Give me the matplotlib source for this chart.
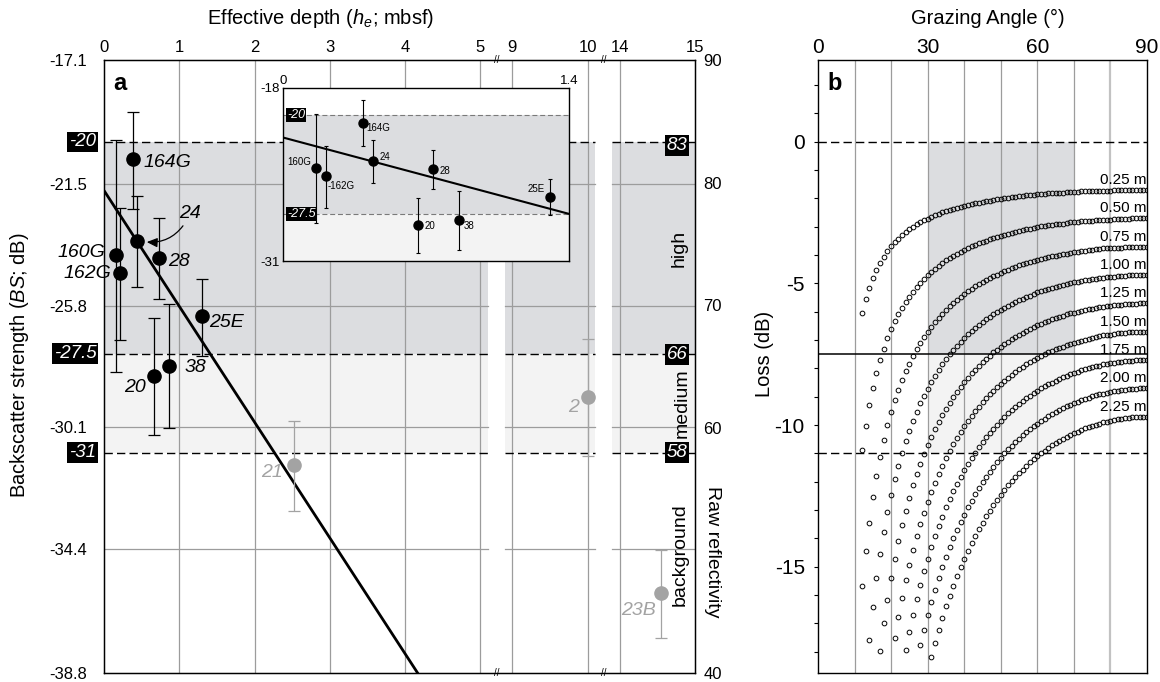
import numpy as np
import matplotlib
matplotlib.use("Agg")
import matplotlib.pyplot as plt
from matplotlib.ticker import NullLocator, MultipleLocator, FixedLocator
from matplotlib.transforms import blended_transform_factory

plt.rcParams['font.family'] = ['Liberation Sans', 'DejaVu Sans']
plt.rcParams['mathtext.fontset'] = 'custom'
plt.rcParams['mathtext.rm'] = 'Liberation Sans'
plt.rcParams['mathtext.it'] = 'Liberation Sans:italic'
plt.rcParams['mathtext.bf'] = 'Liberation Sans:bold'
plt.rcParams['axes.unicode_minus'] = False

# ---------------- panel a data ----------------
cores = ['160G', '162G', '164G', '24', '28', '20', '38', '25E', '21', '2', '23B']
eff_depth = [0.16, 0.21, 0.39, 0.44, 0.735, 0.66, 0.86, 1.305, 2.52, 10.0, 14.55]
bs_mean = [-24.02, -24.65, -20.62, -23.50, -24.10, -28.30, -27.92, -26.18, -31.44, -29.02, -35.98]
bs_upper = [-19.93, -22.34, -18.93, -21.90, -22.68, -26.25, -25.75, -24.86, -29.87, -26.99, -34.45]
bs_lower = [-28.15, -27.00, -22.37, -25.12, -25.56, -30.37, -30.14, -27.57, -33.05, -31.11, -37.55]
in_fit = [True, True, True, True, True, True, True, True, False, False, False]
fit_intercept = -21.72
fit_slope = -4.1
fit_range = [0.0, 4.4]
bs_thresholds = [-20, -27.5, -31]
raw_thresholds = [83, 66, 58]
bs_ticks = [-17.1, -21.5, -25.8, -30.1, -34.4, -38.8]
raw_ticks = [90, 80, 70, 60, 40]
depth_ticks = [0, 1, 2, 3, 4, 5, 9, 10, 14, 15]
class_names = ['high', 'medium', 'background']

# ---------------- panel b data ----------------
burial_depths = ['0.25 m', '0.50 m', '0.75 m', '1.00 m', '1.25 m', '1.50 m', '1.75 m', '2.00 m', '2.25 m']
first_angle = [12, 12, 12, 14, 17, 21, 24, 28, 31]
loss_025 = [-6.06, -5.57, -5.17, -4.82, -4.53, -4.28, -4.06, -3.87, -3.70, -3.55,
            -3.42, -3.30, -3.19, -3.10, -3.01, -2.92, -2.85, -2.78, -2.72, -2.66,
            -2.60, -2.55, -2.50, -2.45, -2.41, -2.37, -2.33, -2.30, -2.27, -2.23,
            -2.20, -2.18, -2.15, -2.12, -2.10, -2.08, -2.06, -2.04, -2.02, -2.00,
            -1.98, -1.96, -1.95, -1.93, -1.92, -1.90, -1.89, -1.88, -1.86, -1.85,
            -1.84, -1.83, -1.82, -1.81, -1.80, -1.80, -1.79, -1.78, -1.77, -1.77,
            -1.76, -1.76, -1.75, -1.75, -1.74, -1.74, -1.73, -1.73, -1.73, -1.72,
            -1.72, -1.72, -1.72, -1.71, -1.71, -1.71, -1.71, -1.71, -1.71]
loss_050 = [-10.87, -10.02, -9.30, -8.68, -8.16, -7.70, -7.30, -6.94, -6.62, -6.34,
            -6.09, -5.86, -5.65, -5.47, -5.29, -5.12, -4.98, -4.84, -4.72, -4.60,
            -4.49, -4.39, -4.29, -4.19, -4.11, -4.03, -3.95, -3.89, -3.83, -3.75,
            -3.69, -3.65, -3.59, -3.53, -3.49, -3.45, -3.41, -3.37, -3.33, -3.29,
            -3.25, -3.21, -3.19, -3.15, -3.13, -3.09, -3.07, -3.05, -3.01, -2.99,
            -2.97, -2.95, -2.93, -2.91, -2.89, -2.89, -2.87, -2.85, -2.83, -2.83,
            -2.81, -2.81, -2.79, -2.79, -2.77, -2.77, -2.75, -2.75, -2.75, -2.73,
            -2.73, -2.73, -2.72, -2.72, -2.71, -2.71, -2.71, -2.71, -2.71]
loss_075 = [-15.68, -14.46, -13.44, -12.55, -11.79, -11.12, -10.53, -10.01, -9.55, -9.13,
            -8.76, -8.42, -8.11, -7.83, -7.57, -7.33, -7.11, -6.91, -6.72, -6.54,
            -6.37, -6.22, -6.08, -5.94, -5.81, -5.69, -5.58, -5.48, -5.38, -5.28,
            -5.19, -5.11, -5.03, -4.95, -4.88, -4.81, -4.75, -4.69, -4.63, -4.57,
            -4.52, -4.46, -4.42, -4.37, -4.33, -4.28, -4.25, -4.21, -4.17, -4.14,
            -4.11, -4.07, -4.05, -4.02, -3.99, -3.97, -3.95, -3.92, -3.90, -3.89,
            -3.86, -3.85, -3.83, -3.82, -3.80, -3.79, -3.77, -3.77, -3.76, -3.75,
            -3.74, -3.74, -3.73, -3.72, -3.72, -3.71, -3.71, -3.71, -3.71]
loss_100 = [-17.57, -16.41, -15.41, -14.54, -13.77, -13.08, -12.47, -11.92, -11.43, -10.98,
            -10.57, -10.20, -9.85, -9.53, -9.24, -8.97, -8.72, -8.48, -8.26, -8.06,
            -7.86, -7.68, -7.51, -7.35, -7.20, -7.07, -6.94, -6.80, -6.68, -6.58,
            -6.47, -6.36, -6.27, -6.18, -6.10, -6.02, -5.94, -5.86, -5.79, -5.72,
            -5.66, -5.59, -5.54, -5.48, -5.43, -5.38, -5.32, -5.28, -5.24, -5.20,
            -5.16, -5.12, -5.08, -5.06, -5.03, -4.99, -4.96, -4.94, -4.92, -4.90,
            -4.87, -4.86, -4.83, -4.82, -4.80, -4.79, -4.78, -4.76, -4.75, -4.74,
            -4.73, -4.72, -4.72, -4.72, -4.71, -4.71, -4.71]
loss_125 = [-17.96, -17.00, -16.16, -15.40, -14.71, -14.10, -13.54, -13.02, -12.56, -12.13,
            -11.73, -11.37, -11.03, -10.72, -10.43, -10.15, -9.89, -9.65, -9.42, -9.22,
            -9.02, -8.83, -8.66, -8.49, -8.33, -8.18, -8.05, -7.91, -7.78, -7.66,
            -7.55, -7.44, -7.34, -7.24, -7.15, -7.06, -6.97, -6.89, -6.81, -6.74,
            -6.67, -6.61, -6.55, -6.48, -6.42, -6.37, -6.32, -6.27, -6.22, -6.18,
            -6.15, -6.10, -6.06, -6.03, -6.00, -5.97, -5.94, -5.91, -5.89, -5.86,
            -5.85, -5.82, -5.80, -5.79, -5.77, -5.76, -5.75, -5.74, -5.73, -5.72,
            -5.72, -5.71, -5.71, -5.71]
loss_150 = [-17.50, -16.77, -16.10, -15.48, -14.93, -14.42, -13.93, -13.50, -13.09, -12.72,
            -12.37, -12.04, -11.73, -11.44, -11.17, -10.92, -10.68, -10.45, -10.25, -10.05,
            -9.85, -9.67, -9.51, -9.35, -9.19, -9.05, -8.92, -8.79, -8.67, -8.55,
            -8.43, -8.33, -8.22, -8.13, -8.03, -7.95, -7.86, -7.79, -7.71, -7.63,
            -7.57, -7.50, -7.44, -7.38, -7.33, -7.27, -7.23, -7.18, -7.14, -7.09,
            -7.06, -7.02, -6.99, -6.95, -6.93, -6.89, -6.87, -6.84, -6.82, -6.81,
            -6.78, -6.77, -6.76, -6.74, -6.73, -6.72, -6.72, -6.71, -6.71, -6.71]
loss_175 = [-17.94, -17.30, -16.70, -16.14, -15.63, -15.16, -14.72, -14.31, -13.92, -13.57,
            -13.23, -12.91, -12.62, -12.34, -12.08, -11.83, -11.60, -11.38, -11.17, -10.98,
            -10.79, -10.61, -10.44, -10.28, -10.13, -9.99, -9.85, -9.72, -9.59, -9.47,
            -9.37, -9.25, -9.16, -9.05, -8.97, -8.88, -8.79, -8.71, -8.64, -8.56,
            -8.50, -8.43, -8.37, -8.32, -8.26, -8.21, -8.16, -8.12, -8.07, -8.03,
            -7.99, -7.96, -7.92, -7.90, -7.86, -7.84, -7.82, -7.80, -7.78, -7.77,
            -7.75, -7.74, -7.73, -7.72, -7.71, -7.71, -7.71]
loss_200 = [-17.76, -17.22, -16.72, -16.25, -15.81, -15.40, -15.02, -14.66, -14.32, -14.00,
            -13.70, -13.42, -13.16, -12.90, -12.67, -12.44, -12.23, -12.02, -11.83, -11.65,
            -11.48, -11.31, -11.15, -11.00, -10.86, -10.73, -10.60, -10.48, -10.36, -10.25,
            -10.14, -10.04, -9.95, -9.86, -9.77, -9.69, -9.61, -9.54, -9.47, -9.40,
            -9.34, -9.28, -9.22, -9.17, -9.12, -9.08, -9.03, -8.99, -8.95, -8.92,
            -8.89, -8.86, -8.83, -8.81, -8.79, -8.77, -8.75, -8.74, -8.73, -8.72,
            -8.71, -8.71, -8.71]
loss_225 = [-18.19, -17.70, -17.24, -16.81, -16.40, -16.02, -15.67, -15.33, -15.01, -14.71,
            -14.43, -14.16, -13.91, -13.67, -13.44, -13.22, -13.02, -12.82, -12.64, -12.46,
            -12.29, -12.13, -11.98, -11.83, -11.70, -11.57, -11.44, -11.32, -11.21, -11.10,
            -11.00, -10.90, -10.81, -10.72, -10.64, -10.56, -10.49, -10.42, -10.35, -10.29,
            -10.23, -10.17, -10.12, -10.07, -10.03, -9.99, -9.95, -9.91, -9.88, -9.85,
            -9.82, -9.80, -9.78, -9.76, -9.74, -9.73, -9.72, -9.72, -9.71, -9.71]
loss_curves = [loss_025, loss_050, loss_075, loss_100, loss_125, loss_150, loss_175, loss_200, loss_225]
high_loss, medium_loss, zero_loss = -7.5, -11.0, 0.0
angle_window = [30, 70]
angle_ticks = [0, 30, 60, 90]
loss_ticks = [0, -5, -10, -15]

# ---------------- styles / layout ----------------
W, H = 1160, 682
DARK = '#dcdde0'
LIGHT = '#f3f3f3'
GRID = '#9c9c9c'
GREY = '#a3a3a3'
DASH = (0, (6, 3))

def fx(px):
    return px / W

def fy(py):
    return 1 - py / H

# broken depth axis: three visible windows, small gaps between them
GAP = 0.225
SEGS = [(0.0, 5.1), (8.9, 10.1), (13.9, 15.0)]

def _fwd(x):
    x = np.asarray(x, dtype=float)
    return np.where(x <= 5.1, x,
           np.where(x < 8.9, 5.1 + (x - 5.1) * GAP / 3.8,
           np.where(x <= 10.1, 5.1 + GAP + (x - 8.9),
           np.where(x < 13.9, 6.3 + GAP + (x - 10.1) * GAP / 3.8,
                    6.3 + 2 * GAP + (x - 13.9)))))

def _inv(u):
    u = np.asarray(u, dtype=float)
    b1, b2, b3, b4 = 5.1, 5.1 + GAP, 6.3 + GAP, 6.3 + 2 * GAP
    return np.where(u <= b1, u,
           np.where(u < b2, 5.1 + (u - b1) * 3.8 / GAP,
           np.where(u <= b3, 8.9 + (u - b2),
           np.where(u < b4, 10.1 + (u - b3) * 3.8 / GAP,
                    13.9 + (u - b4)))))

fig = plt.figure(figsize=(11.6, 6.82), dpi=100)

# =============== panel a ===============
axa = fig.add_axes([fx(104), fy(673), (695 - 104) / W, (673 - 60) / H])
axa.set_xscale('function', functions=(_fwd, _inv))
axa.set_xlim(0, 15)
axa.set_ylim(bs_ticks[-1], bs_ticks[0])

for s0, s1 in SEGS:
    axa.fill_between([s0, s1], bs_thresholds[1], bs_thresholds[0], color=DARK, lw=0, zorder=0)
    axa.fill_between([s0, s1], bs_thresholds[2], bs_thresholds[1], color=LIGHT, lw=0, zorder=0)
    for yv in bs_ticks[1:-1]:
        axa.plot([s0, s1], [yv, yv], color=GRID, lw=0.9, zorder=0.5)
    for yv in bs_thresholds:
        axa.plot([s0, s1], [yv, yv], color='black', lw=1.0, ls=DASH, zorder=1)
axa.vlines([t for t in depth_ticks[1:-1]], bs_ticks[-1], bs_ticks[0], colors=GRID, lw=0.9, zorder=0.5)

fit_y = [fit_intercept + fit_slope * h for h in fit_range]
axa.plot(fit_range, fit_y, color='black', lw=2.0, zorder=3, solid_capstyle='butt')

for i in range(len(cores)):
    col = 'black' if in_fit[i] else GREY
    y = bs_mean[i]
    axa.errorbar([eff_depth[i]], [y], yerr=[[y - bs_lower[i]], [bs_upper[i] - y]], fmt='o',
                 color=col, ms=9.5, capsize=4, elinewidth=0.9, capthick=0.9, zorder=4)

main_label_off = {'160G': (-7.5, 1.8, 'right'), '162G': (-6.0, 0.0, 'right'), '164G': (7.2, -2.2, 'left'),
                  '28': (6.5, -3.0, 'left'), '25E': (4.7, -4.1, 'left'), '20': (-5.8, -7.7, 'right'),
                  '38': (11.5, -1.2, 'left'), '21': (-7.9, -5.5, 'right'), '2': (-6.5, -7.6, 'right'),
                  '23B': (-3.6, -12.7, 'right')}
for i, c in enumerate(cores):
    col = 'black' if in_fit[i] else GREY
    if c == '24':
        axa.annotate(c, xy=(eff_depth[i], bs_mean[i]), xytext=(38.2, 19.7), textcoords='offset points',
                     ha='center', va='center', fontsize=14, fontstyle='italic', color=col, zorder=6,
                     arrowprops=dict(arrowstyle='-|>,head_length=0.45,head_width=0.2',
                                     connectionstyle='arc3,rad=-0.4', lw=0.9, color='black',
                                     shrinkA=1, shrinkB=7))
        continue
    dx, dy, ha = main_label_off[c]
    axa.annotate(c, xy=(eff_depth[i], bs_mean[i]), xytext=(dx, dy), textcoords='offset points',
                 ha=ha, va='center', fontsize=14, fontstyle='italic', color=col, zorder=6,
                 annotation_clip=False)

box = dict(boxstyle='square,pad=0.1', fc='black', ec='none')
for v in bs_thresholds:
    axa.annotate(f'{v:g}', xy=(0, v), xycoords=('axes fraction', 'data'), xytext=(-5.6, 0),
                 textcoords='offset points', ha='right', va='center', color='white',
                 fontstyle='italic', fontsize=13.5, bbox=box, zorder=10, annotation_clip=False)

axa.xaxis.set_ticks_position('top')
axa.xaxis.set_major_locator(FixedLocator(depth_ticks))
axa.set_xticklabels([str(t) for t in depth_ticks])
axa.xaxis.set_minor_locator(NullLocator())
axa.tick_params(axis='x', which='both', length=0, pad=3.5, labelsize=12,
                top=True, bottom=False, labeltop=True, labelbottom=False)
axa.set_yticks(bs_ticks)
axa.set_yticklabels([f'{t:g}' for t in bs_ticks])
axa.yaxis.set_minor_locator(NullLocator())
axa.tick_params(axis='y', length=0, pad=12, labelsize=12)
for sp in axa.spines.values():
    sp.set_linewidth(1.0)

# axis break marks
trans_a = blended_transform_factory(axa.transData, axa.transAxes)
for xb in [7.0, 12.0]:
    for yb in [1.0, 0.0]:
        axa.text(xb, yb, '//', transform=trans_a, ha='center', va='center', fontsize=7,
                 zorder=12, clip_on=False)

# right axis: raw reflectivity
axr = axa.twinx()
axr.set_ylim(40, 90)
axr.set_yticks(raw_ticks)
axr.set_yticklabels([str(t) for t in raw_ticks])
axr.yaxis.set_minor_locator(NullLocator())
axr.tick_params(axis='y', length=0, pad=6, labelsize=12)
for v in raw_thresholds:
    axr.annotate(str(v), xy=(1, v), xycoords=('axes fraction', 'data'), xytext=(-5.6, 0),
                 textcoords='offset points', ha='right', va='center', color='white',
                 fontstyle='italic', fontsize=13.5, bbox=box, zorder=10, annotation_clip=False)

fig.text(fx(679), fy(248), class_names[0], rotation=90, ha='center', va='center', fontsize=14)
fig.text(fx(682), fy(403), class_names[1], rotation=90, ha='center', va='center', fontsize=14)
fig.text(fx(680), fy(555), class_names[2], rotation=90, ha='center', va='center', fontsize=14)
fig.text(fx(713), fy(552), 'Raw reflectivity', rotation=270, ha='center', va='center', fontsize=14)
fig.text(fx(19.5), fy(365), r'Backscatter strength ($\mathit{BS}$; dB)', rotation=90,
         ha='center', va='center', fontsize=14.5)
fig.text(fx(321), fy(19), r'Effective depth ($\mathit{h}_\mathit{e}$; mbsf)', ha='center',
         va='center', fontsize=14.5)
fig.text(fx(120), fy(84), 'a', fontsize=17, fontweight='bold', ha='center', va='center')

# inset
axi = fig.add_axes([fx(283), fy(261), (569 - 283) / W, (261 - 88) / H])
axi.set_xlim(0, 1.4)
axi.set_ylim(-31, -18)
axi.fill_between([0, 1.4], bs_thresholds[1], bs_thresholds[0], color=DARK, lw=0, zorder=0)
axi.fill_between([0, 1.4], -31, bs_thresholds[1], color=LIGHT, lw=0, zorder=0)
for v in bs_thresholds[:2]:
    axi.axhline(v, color='#7a7a7a', lw=0.8, ls=(0, (4.5, 2.5)), zorder=1)
axi.plot([0, 1.4], [fit_intercept, fit_intercept + fit_slope * 1.4], color='black', lw=1.5, zorder=3)
inset_label_off = {'160G': (-3.4, 4.3, 'right'), '162G': (1.4, -6.5, 'left'), '164G': (2.9, -3.6, 'left'),
                   '24': (4.5, 3.1, 'left'), '28': (4.8, -1.2, 'left'), '20': (4.5, -0.5, 'left'),
                   '38': (3.6, -4.1, 'left'), '25E': (-3.4, 5.8, 'right')}
for i, c in enumerate(cores):
    if not in_fit[i]:
        continue
    y = bs_mean[i]
    axi.errorbar([eff_depth[i]], [y], yerr=[[y - bs_lower[i]], [bs_upper[i] - y]], fmt='o',
                 color='black', ms=6.5, capsize=1.5, elinewidth=0.8, capthick=0.8, zorder=4)
    dx, dy, ha = inset_label_off[c]
    txt = '-' + c if c == '162G' else c
    axi.annotate(txt, xy=(eff_depth[i], y), xytext=(dx, dy), textcoords='offset points',
                 ha=ha, va='center', fontsize=7, zorder=6)
ibox = dict(boxstyle='square,pad=0.08', fc='black', ec='none')
for v in bs_thresholds[:2]:
    axi.annotate(f'{v:g}', xy=(0, v), xycoords=('axes fraction', 'data'), xytext=(3.0, 0),
                 textcoords='offset points', ha='left', va='center', color='white',
                 fontstyle='italic', fontsize=9, bbox=ibox, zorder=10)
axi.xaxis.tick_top()
axi.set_xticks([0, 1.4])
axi.set_xticklabels(['0', '1.4'])
axi.set_yticks([-18, -31])
axi.set_yticklabels(['-18', '-31'])
axi.tick_params(axis='both', length=0, labelsize=9.5)
axi.tick_params(axis='x', pad=0.5)
axi.tick_params(axis='y', pad=2)
for sp in axi.spines.values():
    sp.set_linewidth(1.0)

# =============== panel b ===============
axb = fig.add_axes([fx(818), fy(673), (1147 - 818) / W, (673 - 60) / H])
axb.set_xlim(0, 90)
axb.set_ylim(-18.75, 2.88)
axb.fill_between(angle_window, high_loss, zero_loss, color=DARK, lw=0, zorder=0)
axb.fill_between(angle_window, medium_loss, high_loss, color=LIGHT, lw=0, zorder=0)
for g in range(10, 90, 10):
    if g == 80:
        axb.axvline(g, color='#c2c2c2', lw=1.6, zorder=0.5)
    else:
        axb.axvline(g, color=GRID, lw=0.9, zorder=0.5)
axb.axhline(zero_loss, color='black', lw=1.0, ls=DASH, zorder=1)
axb.axhline(medium_loss, color='black', lw=1.0, ls=DASH, zorder=1)
axb.axhline(high_loss, color='black', lw=1.1, zorder=1)
for name, a0, vals in zip(burial_depths, first_angle, loss_curves):
    ang = np.arange(a0, a0 + len(vals))
    axb.plot(ang, vals, 'o', ms=3.4, mfc='none', mec='black', mew=0.7, zorder=3)
    axb.text(89.8, vals[-1] + 0.36, name, ha='right', va='center', fontsize=11, zorder=5)
axb.xaxis.tick_top()
axb.set_xticks(angle_ticks)
axb.set_xticklabels([str(t) for t in angle_ticks])
axb.xaxis.set_minor_locator(NullLocator())
axb.tick_params(axis='x', length=0, pad=2, labelsize=15)
axb.set_yticks(loss_ticks)
axb.set_yticklabels([str(t) for t in loss_ticks])
axb.yaxis.set_minor_locator(MultipleLocator(1))
axb.tick_params(axis='y', which='both', direction='out', length=3, width=0.8, labelsize=15, pad=6.5)
for sp in axb.spines.values():
    sp.set_linewidth(1.0)
fig.text(fx(988), fy(18), 'Grazing Angle (°)', ha='center', va='center', fontsize=14.5)
fig.text(fx(764), fy(354), 'Loss (dB)', rotation=90, ha='center', va='center', fontsize=14.5)
fig.text(fx(835), fy(84), 'b', fontsize=17, fontweight='bold', ha='center', va='center')

fig.savefig('out.png', dpi=100)
